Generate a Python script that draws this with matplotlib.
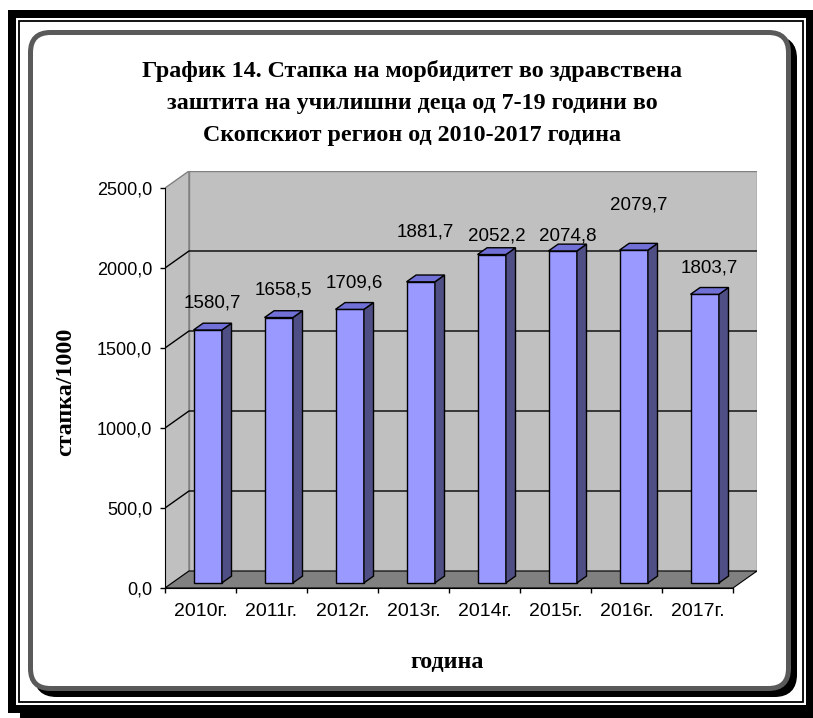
import numpy as np
import matplotlib
matplotlib.use("Agg")
import matplotlib.pyplot as plt
from matplotlib.patches import Polygon, Rectangle, FancyBboxPatch

plt.rcParams["font.family"] = "Liberation Sans"

# morbidity rate per 1000, school children 7-19, Skopje region
years = ["2010г.", "2011г.", "2012г.", "2013г.", "2014г.", "2015г.", "2016г.", "2017г."]
rates = [1580.7, 1658.5, 1709.6, 1881.7, 2052.2, 2074.8, 2079.7, 1803.7]
yticks = [0, 500, 1000, 1500, 2000, 2500]

title_lines = ["График 14. Стапка на морбидитет во здравствена",
               "заштита на училишни деца од 7-19 години во",
               "Скопскиот регион од 2010-2017 година"]

W, H = 813, 718
fig = plt.figure(figsize=(W / 100, H / 100), dpi=100)


def fx(px):
    return px / W


def fy(py):
    return 1 - py / H


# decoration layer in pixel units
bg = fig.add_axes([0, 0, 1, 1])
bg.set_xlim(0, W)
bg.set_ylim(H, 0)
bg.axis("off")

# outer black border with a small drop shadow at the bottom
for x, y, w, h in [(8, 10, 805, 8), (8, 10, 8, 703), (806, 10, 7, 708),
                   (8, 705, 805, 8), (20, 713, 793, 5)]:
    bg.add_patch(Rectangle((x, y), w, h, color="black", lw=0))
bg.add_patch(Rectangle((18.5, 20.5), 784, 681.5, fill=False, lw=1.3, ec="black"))

# rounded chart frame and its shadow
pad = 20
bg.add_patch(FancyBboxPatch((30.5 + pad + 6, 32.5 + pad + 6), 758 - 2 * pad, 656 - 2 * pad,
                            boxstyle="round,pad=%d" % pad, fc="black", ec="black",
                            lw=5 * 0.72))
bg.add_patch(FancyBboxPatch((30.5 + pad, 32.5 + pad), 758 - 2 * pad, 656 - 2 * pad,
                            boxstyle="round,pad=%d" % pad, fc="white", ec="#5A5A5A",
                            lw=5 * 0.72))

# plot area: front plane plus depth offset
left, right, top, bottom = 165, 757, 171, 588
ax = fig.add_axes([fx(left), fy(bottom), fx(right - left), (bottom - top) / H])
ddx = 24 / 71.0
ddy = 17 / 0.16
n = len(years)
ax.set_xlim(0, n + ddx)
ax.set_ylim(0, 2500 + ddy)
ax.patch.set_alpha(0)

wall = "#C0C0C0"
edge = "#808080"
ytop = yticks[-1]

# left side wall and back wall
ax.add_patch(Polygon([(0, 0), (0, ytop), (ddx, ytop + ddy), (ddx, ddy)],
                     closed=True, fc=wall, ec=edge, lw=1, zorder=1))
ax.add_patch(Polygon([(ddx, ddy), (n + ddx, ddy), (n + ddx, ytop + ddy), (ddx, ytop + ddy)],
                     closed=True, fc=wall, ec=edge, lw=1, zorder=1))
for v in yticks[1:-1]:
    ax.plot([0, ddx, n + ddx], [v, v + ddy, v + ddy], color="black", lw=1, zorder=2)

# floor
ax.add_patch(Polygon([(0, 0), (n, 0), (n + ddx, ddy), (ddx, ddy)],
                     closed=True, fc="#808080", ec="black", lw=0.8, zorder=2))

# 3D bars
f0, f1 = 0.3, 0.7
bw = 0.4
bdx, bdy = (f1 - f0) * ddx, (f1 - f0) * ddy
label_lift = [200, 204, 197, 343, 150, 128, 314, 196]
for i, v in enumerate(rates):
    x0 = i + 0.5 - bw / 2 + f0 * ddx
    x1 = x0 + bw
    y0 = f0 * ddy
    y1 = y0 + v
    ax.add_patch(Polygon([(x0, y0), (x1, y0), (x1, y1), (x0, y1)], closed=True,
                         fc="#9999FF", ec="black", lw=1, zorder=5))
    ax.add_patch(Polygon([(x1, y0), (x1 + bdx, y0 + bdy), (x1 + bdx, y1 + bdy), (x1, y1)],
                         closed=True, fc="#4F4F85", ec="black", lw=1, zorder=5))
    ax.add_patch(Polygon([(x0, y1), (x1, y1), (x1 + bdx, y1 + bdy), (x0 + bdx, y1 + bdy)],
                         closed=True, fc="#7070D6", ec="black", lw=1, zorder=5))
    ax.text(i + 0.5 + 0.5 * ddx, v + label_lift[i], f"{v:.1f}".replace(".", ","),
            ha="center", va="center", fontsize=13.5, zorder=6)

# axes lines and ticks
for s in ["top", "right"]:
    ax.spines[s].set_visible(False)
ax.spines["left"].set_bounds(0, ytop)
ax.spines["bottom"].set_bounds(0, n)
ax.spines["left"].set_zorder(7)
ax.spines["bottom"].set_zorder(7)
ax.set_yticks(yticks)
ax.set_yticklabels([f"{v:.1f}".replace(".", ",") for v in yticks], fontsize=13)
ax.tick_params(axis="y", direction="out", length=3.6, width=1, pad=5.5)
ax.set_xticks(np.arange(n + 1))
ax.set_xticklabels([])
ax.set_xticks(np.arange(n) + 0.5, minor=True)
ax.set_xticklabels(years, minor=True, fontsize=14)
ax.tick_params(axis="x", which="major", direction="out", length=3.6, width=1)
ax.tick_params(axis="x", which="minor", length=0, pad=11)

# titles
for k, line in enumerate(title_lines):
    fig.text(fx(412), fy(71 + 32 * k), line, ha="center", va="center",
             fontsize=17.3, fontweight="bold", family="Liberation Serif")
fig.text(fx(66), fy(392), "стапка/1000", rotation=90, ha="center", va="center",
         fontsize=17.3, fontweight="bold", family="Liberation Serif")
fig.text(fx(447), fy(662), "година", ha="center", va="center",
         fontsize=17.3, fontweight="bold", family="Liberation Serif")

fig.savefig("out.png", dpi=100)
